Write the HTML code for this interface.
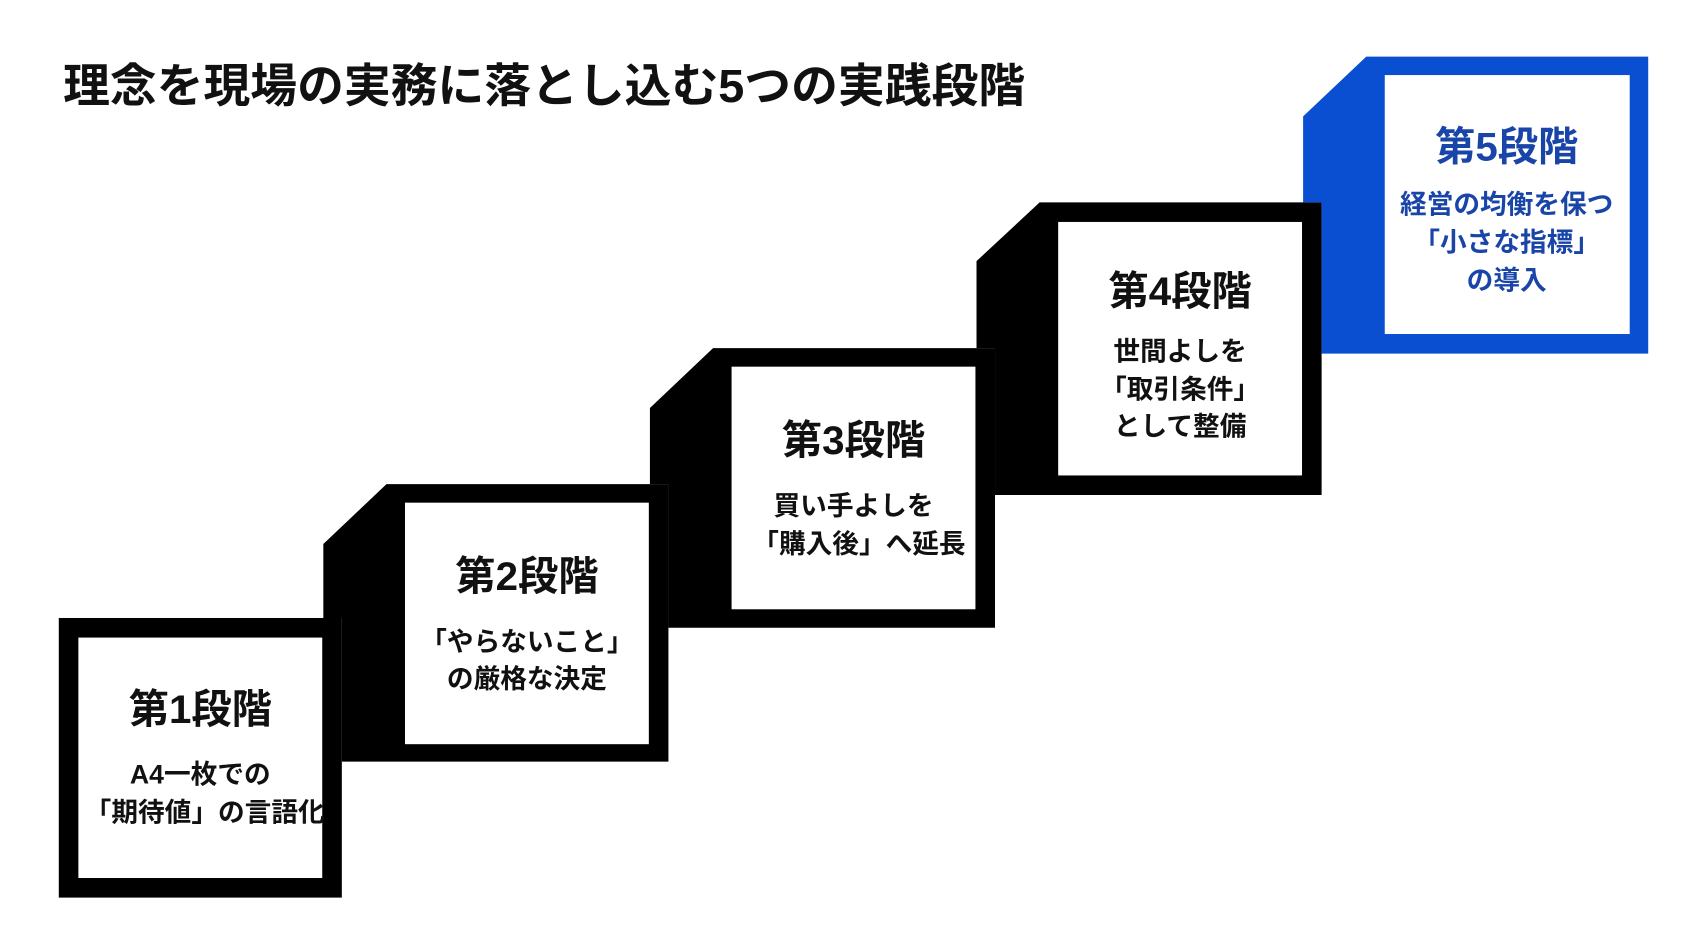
<!DOCTYPE html>
<html><head><meta charset="utf-8"><style>
html,body{margin:0;padding:0;background:#fff;}
svg{display:block;}
text{font-family:"Liberation Sans","Noto Sans CJK JP",sans-serif;font-weight:700;}
</style></head><body>
<svg width="1707" height="952" viewBox="0 0 1568 875" preserveAspectRatio="none" xmlns="http://www.w3.org/2000/svg">
<rect width="1568" height="875" fill="#fff"/>
<text x="58" y="79" font-size="43" fill="#111" dominant-baseline="central">理念を現場の実務に落とし込む5つの実践段階</text>

<rect x="54" y="568" width="260" height="257" fill="#000"/>
<rect x="72" y="586" width="224" height="221" fill="#fff"/>
<polygon points="297,500 355,445 614,445 614,700 314,700 314,568 297,568" fill="#000"/>
<rect x="372" y="462" width="224" height="222" fill="#fff"/>
<polygon points="597,375 655,320 914,320 914,577 614,577 614,445 597,445" fill="#000"/>
<rect x="672" y="337" width="224" height="223" fill="#fff"/>
<polygon points="897,240 955,186 1214,186 1214,455 914,455 914,320 897,320" fill="#000"/>
<rect x="972" y="204" width="224" height="233" fill="#fff"/>
<polygon points="1197,107 1255,52 1514,52 1514,325 1214,325 1214,186 1197,186" fill="#0a4fd2"/>
<rect x="1272" y="69" width="225" height="238" fill="#fff"/>

<g text-anchor="middle" dominant-baseline="central" fill="#111">
<text x="184" y="652" font-size="37">第1段階</text>
<text x="184" y="712" font-size="24.5">A4一枚での</text>
<text x="188" y="747" font-size="24.5">「期待値」の言語化</text>

<text x="484" y="530" font-size="37">第2段階</text>
<text x="484" y="590" font-size="24.5">「やらないこと」</text>
<text x="484" y="624" font-size="24.5">の厳格な決定</text>

<text x="784" y="405" font-size="37">第3段階</text>
<text x="784" y="465" font-size="24.5">買い手よしを</text>
<text x="789" y="500" font-size="24.5">「購入後」へ延長</text>

<text x="1084" y="268" font-size="37">第4段階</text>
<text x="1084" y="323" font-size="24.5">世間よしを</text>
<text x="1084" y="358" font-size="24.5">「取引条件」</text>
<text x="1084" y="392" font-size="24.5">として整備</text>
</g>
<g text-anchor="middle" dominant-baseline="central" fill="#1a45a8">
<text x="1384" y="135" font-size="37">第5段階</text>
<text x="1384" y="188" font-size="24.5">経営の均衡を保つ</text>
<text x="1384" y="223" font-size="24.5">「小さな指標」</text>
<text x="1384" y="258" font-size="24.5">の導入</text>
</g>
</svg>
</body></html>
